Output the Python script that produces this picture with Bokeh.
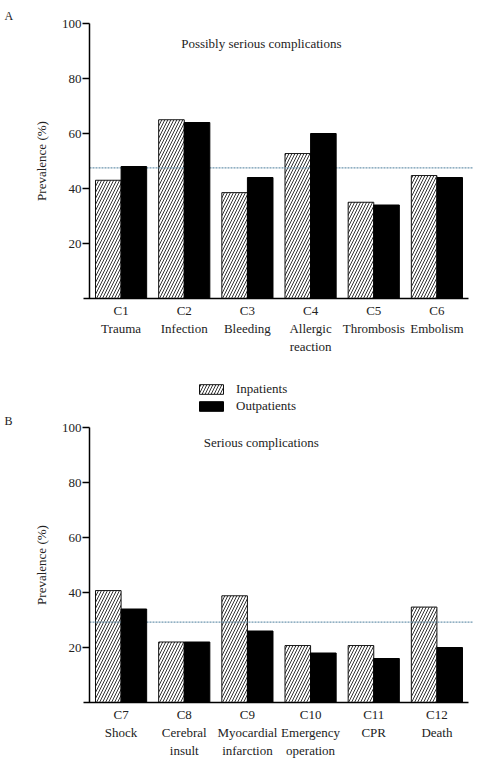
from bokeh.plotting import figure
from bokeh.layouts import column
from bokeh.models import (Range1d, FixedTicker, Label, Legend, LegendItem,
                          ColumnDataSource)
from bokeh.embed import file_html
from bokeh.resources import INLINE

# ---- data ----
labels_a = ["C1\nTrauma", "C2\nInfection", "C3\nBleeding", "C4\nAllergic\nreaction",
            "C5\nThrombosis", "C6\nEmbolism"]
inpatients_a = [43, 65, 38.5, 52.7, 35, 44.7]
outpatients_a = [48, 64, 44, 60, 34, 44]
mean_a = 47.5
title_a = "Possibly serious complications"

labels_b = ["C7\nShock", "C8\nCerebral\ninsult", "C9\nMyocardial\ninfarction",
            "C10\nEmergency\noperation", "C11\nCPR", "C12\nDeath"]
inpatients_b = [40.7, 22, 38.8, 20.7, 20.7, 34.7]
outpatients_b = [34, 22, 26, 18, 16, 20]
mean_b = 29.2
title_b = "Serious complications"

y_ticks = [20, 40, 60, 80, 100]
series_names = ["Inpatients", "Outpatients"]

FONT = "'Liberation Serif', 'Times New Roman', serif"
TXT = "#222222"
BW = 0.405

PX_X = 379 / 6.0      # pixels per category unit
PX_Y = 2.75           # pixels per percent
LEFT_PAD = 89         # space left of the y axis
X_MIN = -0.5 - LEFT_PAD / PX_X
X_MAX = 5.5 + 5 / PX_X


def make_panel(labels, inp, outp, mean, title, letter, height, frame_h,
               title_y, letter_y, with_legend=False):
    n = len(labels)
    xs = list(range(n))
    y_max = frame_h / PX_Y
    p = figure(width=482, height=height, output_backend="svg", toolbar_location=None,
               x_range=Range1d(X_MIN, X_MAX), y_range=Range1d(0, y_max),
               min_border_left=0, min_border_right=9, min_border_top=0,
               min_border_bottom=height - frame_h, title=None)
    p.outline_line_color = None
    p.xgrid.visible = False
    p.ygrid.visible = False
    p.background_fill_color = "white"
    p.border_fill_color = "white"

    src_in = ColumnDataSource(dict(x=[x - BW / 2 for x in xs], top=inp))
    src_out = ColumnDataSource(dict(x=[x + BW / 2 for x in xs], top=outp))
    r_in = p.vbar(x="x", top="top", bottom=0, width=BW, source=src_in,
                  fill_color="white", line_color="#111111", line_width=1,
                  hatch_pattern="right_diagonal_line", hatch_scale=6,
                  hatch_weight=1, hatch_color="#333333")
    p.segment(x0=[-0.5], x1=[X_MAX], y0=[mean], y1=[mean], line_color="#6f97b0",
              line_width=1.3, line_dash="2 1")
    r_out = p.vbar(x="x", top="top", bottom=0, width=BW, source=src_out,
                   fill_color="black", line_color="black", line_width=1)

    # y axis fixed at the left edge of the bars region
    p.yaxis.fixed_location = -0.5
    p.yaxis.bounds = (0, 100)
    p.yaxis.ticker = FixedTicker(ticks=y_ticks)
    p.yaxis.minor_tick_line_color = None
    p.yaxis.major_tick_out = 7
    p.yaxis.major_tick_in = 0
    p.yaxis.major_label_standoff = 1
    p.yaxis.axis_line_width = 1.5
    p.yaxis.major_tick_line_width = 1.5
    p.yaxis.axis_label = "Prevalence (%)"
    p.yaxis.axis_label_text_font = FONT
    p.yaxis.axis_label_text_font_style = "normal"
    p.yaxis.axis_label_text_font_size = "13px"
    p.yaxis.axis_label_text_color = TXT
    p.yaxis.axis_label_standoff = 10
    p.yaxis.major_label_text_font = FONT
    p.yaxis.major_label_text_font_size = "13px"
    p.yaxis.major_label_text_color = TXT

    p.xaxis.bounds = (-0.5 - 6 / PX_X, 5.5)
    p.xaxis.ticker = FixedTicker(ticks=xs)
    p.xaxis.major_label_overrides = {i: lab for i, lab in enumerate(labels)}
    p.xaxis.minor_tick_line_color = None
    p.xaxis.major_tick_line_color = None
    p.xaxis.major_tick_out = 0
    p.xaxis.major_tick_in = 0
    p.xaxis.major_label_standoff = 4
    p.xaxis.axis_line_width = 1.5
    p.xaxis.major_label_text_font = FONT
    p.xaxis.major_label_text_font_size = "13px"
    p.xaxis.major_label_text_color = TXT

    p.add_layout(Label(x=2.22, y=title_y, text=title, text_align="center",
                       text_baseline="middle", text_font=FONT,
                       text_font_size="13px", text_color=TXT))
    p.add_layout(Label(x=X_MIN + 4 / PX_X, y=letter_y, text=letter,
                       text_align="left", text_baseline="middle", text_font=FONT,
                       text_font_size="12px", text_color=TXT))

    if with_legend:
        leg = Legend(items=[LegendItem(label=series_names[0], renderers=[r_in]),
                            LegendItem(label=series_names[1], renderers=[r_out])],
                     location=(196, frame_h - 34), glyph_width=30, glyph_height=12,
                     label_height=15, spacing=1, padding=0, margin=0,
                     label_standoff=10, border_line_color=None,
                     background_fill_alpha=0, label_text_font=FONT,
                     label_text_font_size="13px", label_text_color=TXT)
        p.add_layout(leg, "center")
    return p


pa = make_panel(labels_a, inpatients_a, outpatients_a, mean_a, title_a, "A",
                380, 298, 92.7, 102.9)
pb = make_panel(labels_b, inpatients_b, outpatients_b, mean_b, title_b, "B",
                381, 322, 94.5, 102.5, with_legend=True)

layout = column(pa, pb, spacing=0)
open("out.html", "w").write(file_html(layout, INLINE))
